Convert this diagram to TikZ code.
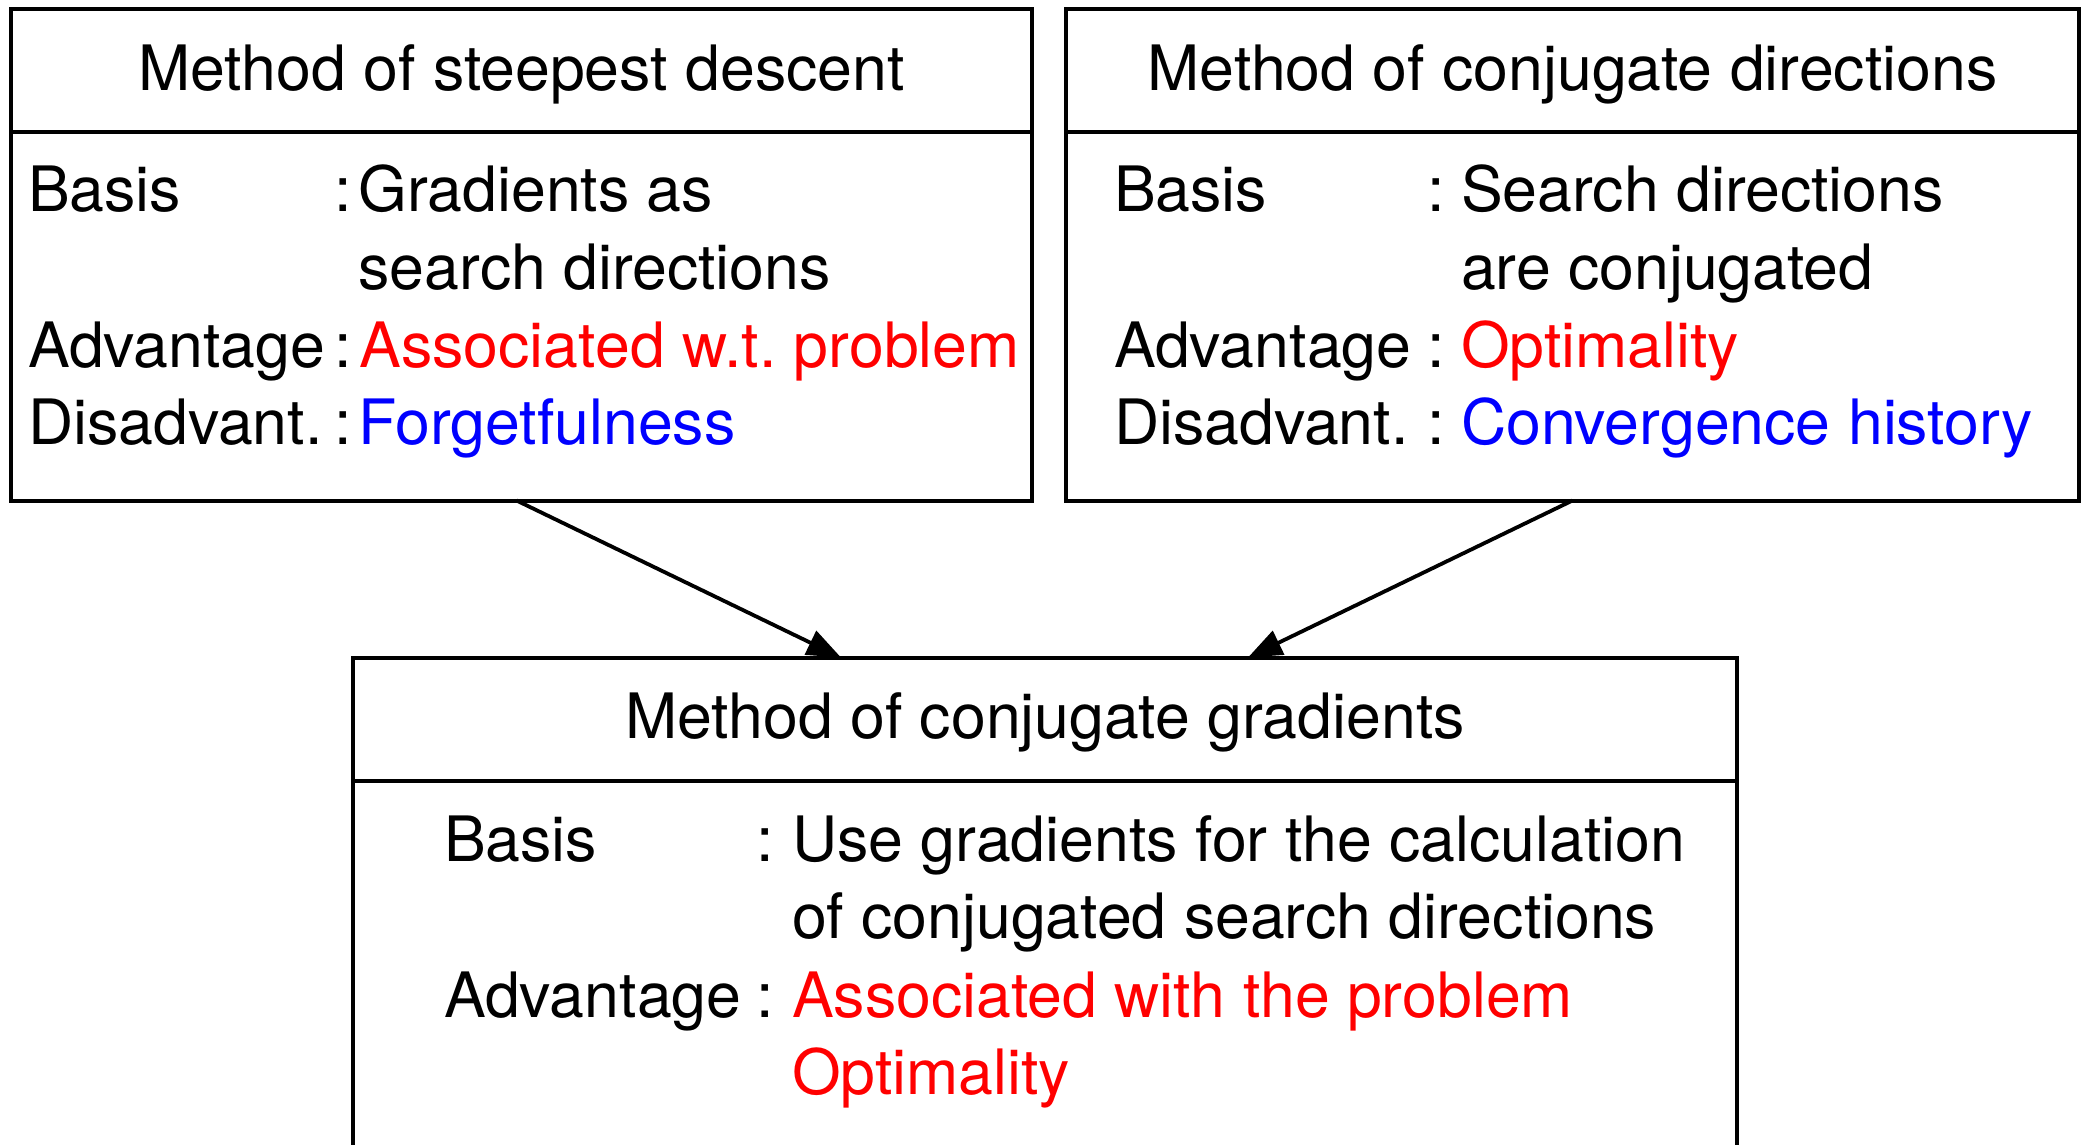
\documentclass[tikz,border=0pt]{standalone}
\usepackage{fontspec}
\setmainfont{TeX Gyre Heros}
\usetikzlibrary{arrows.meta}
\frenchspacing
\begin{document}
\begin{tikzpicture}[x=1pt,y=-1pt,
  every node/.style={font=\fontsize{62.6}{78}\selectfont\frenchspacing, inner sep=0pt, outer sep=0pt},
  box/.style={draw, line width=4pt, rectangle, anchor=north west},
  sep/.style={line width=4pt},
  lbl/.style={anchor=base west},
  ttl/.style={anchor=base},
  conn/.style={line width=3.8pt, -{Triangle[length=34pt,width=26pt]}},
  good/.style={anchor=base west, text=red},
  bad/.style={anchor=base west, text=blue}]
\useasboundingbox (0,0) rectangle (2087,1145);
\clip (0,0) rectangle (2087,1145);
% boxes
\node[box, minimum width=1021pt, minimum height=491pt] (sd) at (11,9.5) {};
\node[box, minimum width=1013pt, minimum height=491pt] (cd) at (1066,9.5) {};
\node[box, minimum width=1384pt, minimum height=700pt] (cg) at (353,657.5) {};
% header separators
\draw[sep] (sd.west |- 0,132) -- (sd.east |- 0,132);
\draw[sep] (cd.west |- 0,132) -- (cd.east |- 0,132);
\draw[sep] (cg.west |- 0,781) -- (cg.east |- 0,781);
% titles
\node[ttl] (sdt) at (521.5,90.5) {Method of steepest descent};
\node[ttl] (cdt) at (1572.5,90.5) {Method of conjugate directions};
\node[ttl] (cgt) at (1045,738.5) {Method of conjugate gradients};
% left box
\node[lbl] (sdl1) at (28,211.5) {Basis};
\node[lbl] (sdc1) at (334,211.5) {:};
\node[lbl] (sdv1) at (358.5,211.5) {Gradients as};
\node[lbl] (sdv1b) at (358.5,289) {search directions};
\node[lbl] (sdl2) at (28,367.5) {Advantage};
\node[lbl] (sdc2) at (334,367.5) {:};
\node[good] (sdv2) at (359.5,367.5) {Associated w.t. problem};
\node[lbl] (sdl3) at (28,444.5) {Disadvant.};
\node[lbl] (sdc3) at (334,444.5) {:};
\node[bad] (sdv3) at (358.5,444.5) {Forgetfulness};
% right box
\node[lbl] (cdl1) at (1114,211.5) {Basis};
\node[lbl] (cdc1) at (1427,211.5) {:};
\node[lbl] (cdv1) at (1461,211.5) {Search directions};
\node[lbl] (cdv1b) at (1461,289) {are conjugated};
\node[lbl] (cdl2) at (1114,367.5) {Advantage};
\node[lbl] (cdc2) at (1427,367.5) {:};
\node[good] (cdv2) at (1461,367.5) {Optimality};
\node[lbl] (cdl3) at (1114,444.5) {Disadvant.};
\node[lbl] (cdc3) at (1427,444.5) {:};
\node[bad] (cdv3) at (1461,444.5) {Convergence history};
% bottom box
\node[lbl] (cgl1) at (444,861) {Basis};
\node[lbl] (cgc1) at (756,861) {:};
\node[lbl] (cgv1) at (792,861) {Use gradients for the calculation};
\node[lbl] (cgv1b) at (792,938) {of conjugated search directions};
\node[lbl] (cgl2) at (444,1017) {Advantage};
\node[lbl] (cgc2) at (756,1017) {:};
\node[good] (cgv2) at (792,1017) {Associated with the problem};
\node[good] (cgv2b) at (792,1094) {Optimality};
% connectors
\coordinate (cgin1) at ([xshift=-204pt]cg.north);
\coordinate (cgin2) at ([xshift=203pt]cg.north);
\draw[conn] ([xshift=-5pt]sd.south) -- (cgin1);
\draw[conn] (cd.south) -- (cgin2);
\end{tikzpicture}
\end{document}
